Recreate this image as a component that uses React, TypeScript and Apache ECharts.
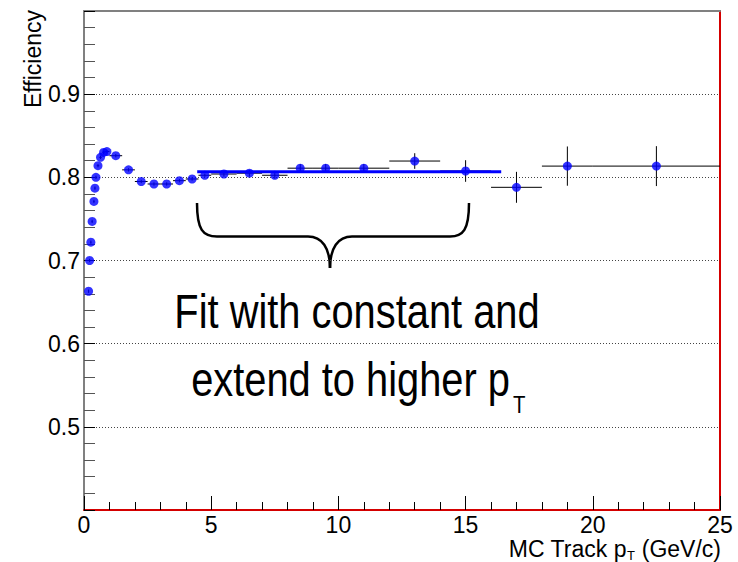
import React, { useEffect, useRef } from "react";
import * as echarts from "echarts";

// Measured efficiency points
const ptValues = [0.18, 0.22, 0.27, 0.32, 0.39, 0.43, 0.47, 0.55, 0.65, 0.77, 0.9, 1.25, 1.75, 2.25, 2.75, 3.25, 3.75, 4.25, 4.75, 5.5, 6.5, 7.5, 8.5, 9.5, 11, 13, 15, 17, 19, 22.5];
const effValues = [0.663, 0.700, 0.722, 0.747, 0.771, 0.787, 0.800, 0.814, 0.824, 0.830, 0.831, 0.826, 0.809, 0.795, 0.792, 0.792, 0.796, 0.798, 0.8025, 0.804, 0.805, 0.8025, 0.811, 0.811, 0.811, 0.8196, 0.8076, 0.788, 0.8135, 0.8135];
const ptHalfWidths = [0.02, 0.02, 0.025, 0.025, 0.025, 0.025, 0.025, 0.05, 0.05, 0.05, 0.1, 0.25, 0.25, 0.25, 0.25, 0.25, 0.25, 0.25, 0.25, 0.5, 0.5, 0.5, 0.5, 0.5, 1, 1, 1, 1, 1, 2.5];
const effErrors = [0.002, 0.002, 0.002, 0.002, 0.002, 0.002, 0.002, 0.002, 0.002, 0.002, 0.002, 0.002, 0.002, 0.002, 0.002, 0.002, 0.002, 0.002, 0.002, 0.003, 0.004, 0.004, 0.005, 0.005, 0.005, 0.0094, 0.013, 0.0186, 0.0236, 0.024];

// Constant fit
const fitRange = [4.45, 16.4];
const fitValue = 0.8067;

const yTickLabels = ["0.5", "0.6", "0.7", "0.8", "0.9"];

const FONT = "'Liberation Sans', Arial, Helvetica, sans-serif";

function measure(text: string, size: number): number {
  const c = document.createElement("canvas");
  const ctx = c.getContext("2d");
  if (!ctx) return text.length * size * 0.55;
  ctx.font = `${size}px 'Liberation Sans', Arial, sans-serif`;
  return ctx.measureText(text).width;
}

export default function App() {
  const ref = useRef<HTMLDivElement>(null);
  useEffect(() => {
    if (!ref.current) return;
    const chart = echarts.init(ref.current, undefined, { renderer: "svg" });
    const points = ptValues.map((x, i) => [x, effValues[i], ptHalfWidths[i], effErrors[i]]);
    const braceStyle = { stroke: "#000", lineWidth: 2.5, fill: "none" };

    // x-axis title layout: "MC Track p" + subscript "T" + " (GeV/c)", right-aligned at 721
    const wUnit = measure(" (GeV/c)", 23);
    const wSub = measure("T", 13);
    const xUnit = 721 - wUnit;
    const xSub = xUnit - wSub - 0.5;
    const xMain = xSub - 0.5;

    chart.setOption({
      animation: false,
      backgroundColor: "#fff",
      grid: { left: 84, right: 18, top: 11, bottom: 52, containLabel: false },
      xAxis: [
        {
          type: "value",
          min: 0,
          max: 25,
          interval: 5,
          axisLine: { show: true, onZero: false, lineStyle: { color: "#d40000", width: 2 } },
          axisTick: { show: true, inside: true, length: 14, lineStyle: { color: "#000", width: 1 } },
          minorTick: { show: true, splitNumber: 5, length: 8, lineStyle: { color: "#000", width: 1 } },
          axisLabel: { show: true, fontSize: 23, fontFamily: FONT, color: "#000", margin: 3, lineHeight: 23 },
          splitLine: { show: false },
        },
        {
          type: "value",
          position: "top",
          min: 0,
          max: 25,
          axisLine: { show: true, onZero: false, lineStyle: { color: "#808080", width: 2 } },
          axisTick: { show: false },
          axisLabel: { show: false },
          splitLine: { show: false },
        },
      ],
      yAxis: [
        {
          type: "value",
          position: "left",
          min: 0.4,
          max: 1.0,
          interval: 0.1,
          axisLine: { show: true, onZero: false, lineStyle: { color: "#808080", width: 2 } },
          axisTick: { show: true, inside: true, length: 11, lineStyle: { color: "#000", width: 1 } },
          minorTick: { show: true, splitNumber: 5, length: 11, lineStyle: { color: "#555", width: 1 } },
          axisLabel: {
            show: true,
            fontSize: 23,
            fontFamily: FONT,
            color: "#000",
            margin: 4,
            formatter: (v: number) => {
              const s = v.toFixed(1);
              return yTickLabels.indexOf(s) >= 0 ? s : "";
            },
          },
          splitLine: { show: true, lineStyle: { color: "#444", width: 1, type: [1, 2] } },
        },
        {
          type: "value",
          position: "right",
          min: 0.4,
          max: 1.0,
          axisLine: { show: true, onZero: false, lineStyle: { color: "#d40000", width: 2 } },
          axisTick: { show: false },
          axisLabel: { show: false },
          splitLine: { show: false },
        },
      ],
      series: [
        {
          type: "custom",
          xAxisIndex: 0,
          yAxisIndex: 0,
          data: points,
          z: 2,
          renderItem: (params: any, api: any) => {
            const x = api.value(0);
            const y = api.value(1);
            const xe = api.value(2);
            const ye = api.value(3);
            const l = api.coord([x - xe, y]);
            const r = api.coord([x + xe, y]);
            const b = api.coord([x, y - ye]);
            const t = api.coord([x, y + ye]);
            return {
              type: "group",
              children: [
                { type: "line", shape: { x1: l[0], y1: l[1], x2: r[0], y2: r[1] }, style: { stroke: "#000", lineWidth: 1 } },
                { type: "line", shape: { x1: b[0], y1: b[1], x2: t[0], y2: t[1] }, style: { stroke: "#000", lineWidth: 1 } },
              ],
            };
          },
        },
        {
          type: "line",
          xAxisIndex: 0,
          yAxisIndex: 0,
          data: [[fitRange[0], fitValue], [fitRange[1], fitValue]],
          showSymbol: false,
          symbol: "none",
          lineStyle: { color: "#0000ff", width: 3 },
          z: 3,
        },
        {
          type: "scatter",
          xAxisIndex: 0,
          yAxisIndex: 0,
          data: ptValues.map((x, i) => [x, effValues[i]]),
          symbol: "circle",
          symbolSize: 9,
          itemStyle: { color: "#0000ff" },
          z: 4,
        },
      ],
      graphic: [
        {
          type: "text",
          x: 33,
          y: 10,
          rotation: Math.PI / 2,
          style: { text: "Efficiency", fontSize: 23, fontFamily: FONT, fill: "#000", align: "right", verticalAlign: "middle" },
        },
        {
          type: "text",
          x: xMain,
          y: 548.5,
          style: { text: "MC Track p", fontSize: 23, fontFamily: FONT, fill: "#000", align: "right", verticalAlign: "middle" },
        },
        {
          type: "text",
          x: xSub,
          y: 555.5,
          style: { text: "T", fontSize: 13, fontFamily: FONT, fill: "#000", align: "left", verticalAlign: "middle" },
        },
        {
          type: "text",
          x: xUnit,
          y: 548.5,
          style: { text: " (GeV/c)", fontSize: 23, fontFamily: FONT, fill: "#000", align: "left", verticalAlign: "middle" },
        },
        {
          type: "text",
          x: 357,
          y: 311,
          scaleX: 0.83,
          style: { text: "Fit with constant and", fontSize: 48, fontFamily: FONT, fill: "#000", align: "center", verticalAlign: "middle" },
        },
        {
          type: "text",
          x: 510,
          y: 379,
          scaleX: 0.83,
          style: { text: "extend to higher p", fontSize: 48, fontFamily: FONT, fill: "#000", align: "right", verticalAlign: "middle" },
        },
        {
          type: "text",
          x: 513,
          y: 405,
          scaleX: 0.85,
          style: { text: "T", fontSize: 24, fontFamily: FONT, fill: "#000", align: "left", verticalAlign: "middle" },
        },
        { type: "bezierCurve", shape: { x1: 197, y1: 203, cpx1: 197, cpy1: 230, cpx2: 203, cpy2: 236.5, x2: 217, y2: 236.5 }, style: braceStyle },
        { type: "line", shape: { x1: 217, y1: 236.5, x2: 308, y2: 236.5 }, style: braceStyle },
        { type: "bezierCurve", shape: { x1: 308, y1: 236.5, cpx1: 322, cpy1: 236.5, cpx2: 330, cpy2: 248, x2: 330, y2: 268 }, style: braceStyle },
        { type: "bezierCurve", shape: { x1: 330, y1: 268, cpx1: 330, cpy1: 248, cpx2: 338, cpy2: 236.5, x2: 352, y2: 236.5 }, style: braceStyle },
        { type: "line", shape: { x1: 352, y1: 236.5, x2: 450, y2: 236.5 }, style: braceStyle },
        { type: "bezierCurve", shape: { x1: 450, y1: 236.5, cpx1: 463, cpy1: 236.5, cpx2: 469, cpy2: 230, x2: 469, y2: 203 }, style: braceStyle },
      ],
    });
    return () => chart.dispose();
  }, []);
  return <div ref={ref} style={{ position: "fixed", left: 0, top: 0, width: 738, height: 562 }} />;
}
